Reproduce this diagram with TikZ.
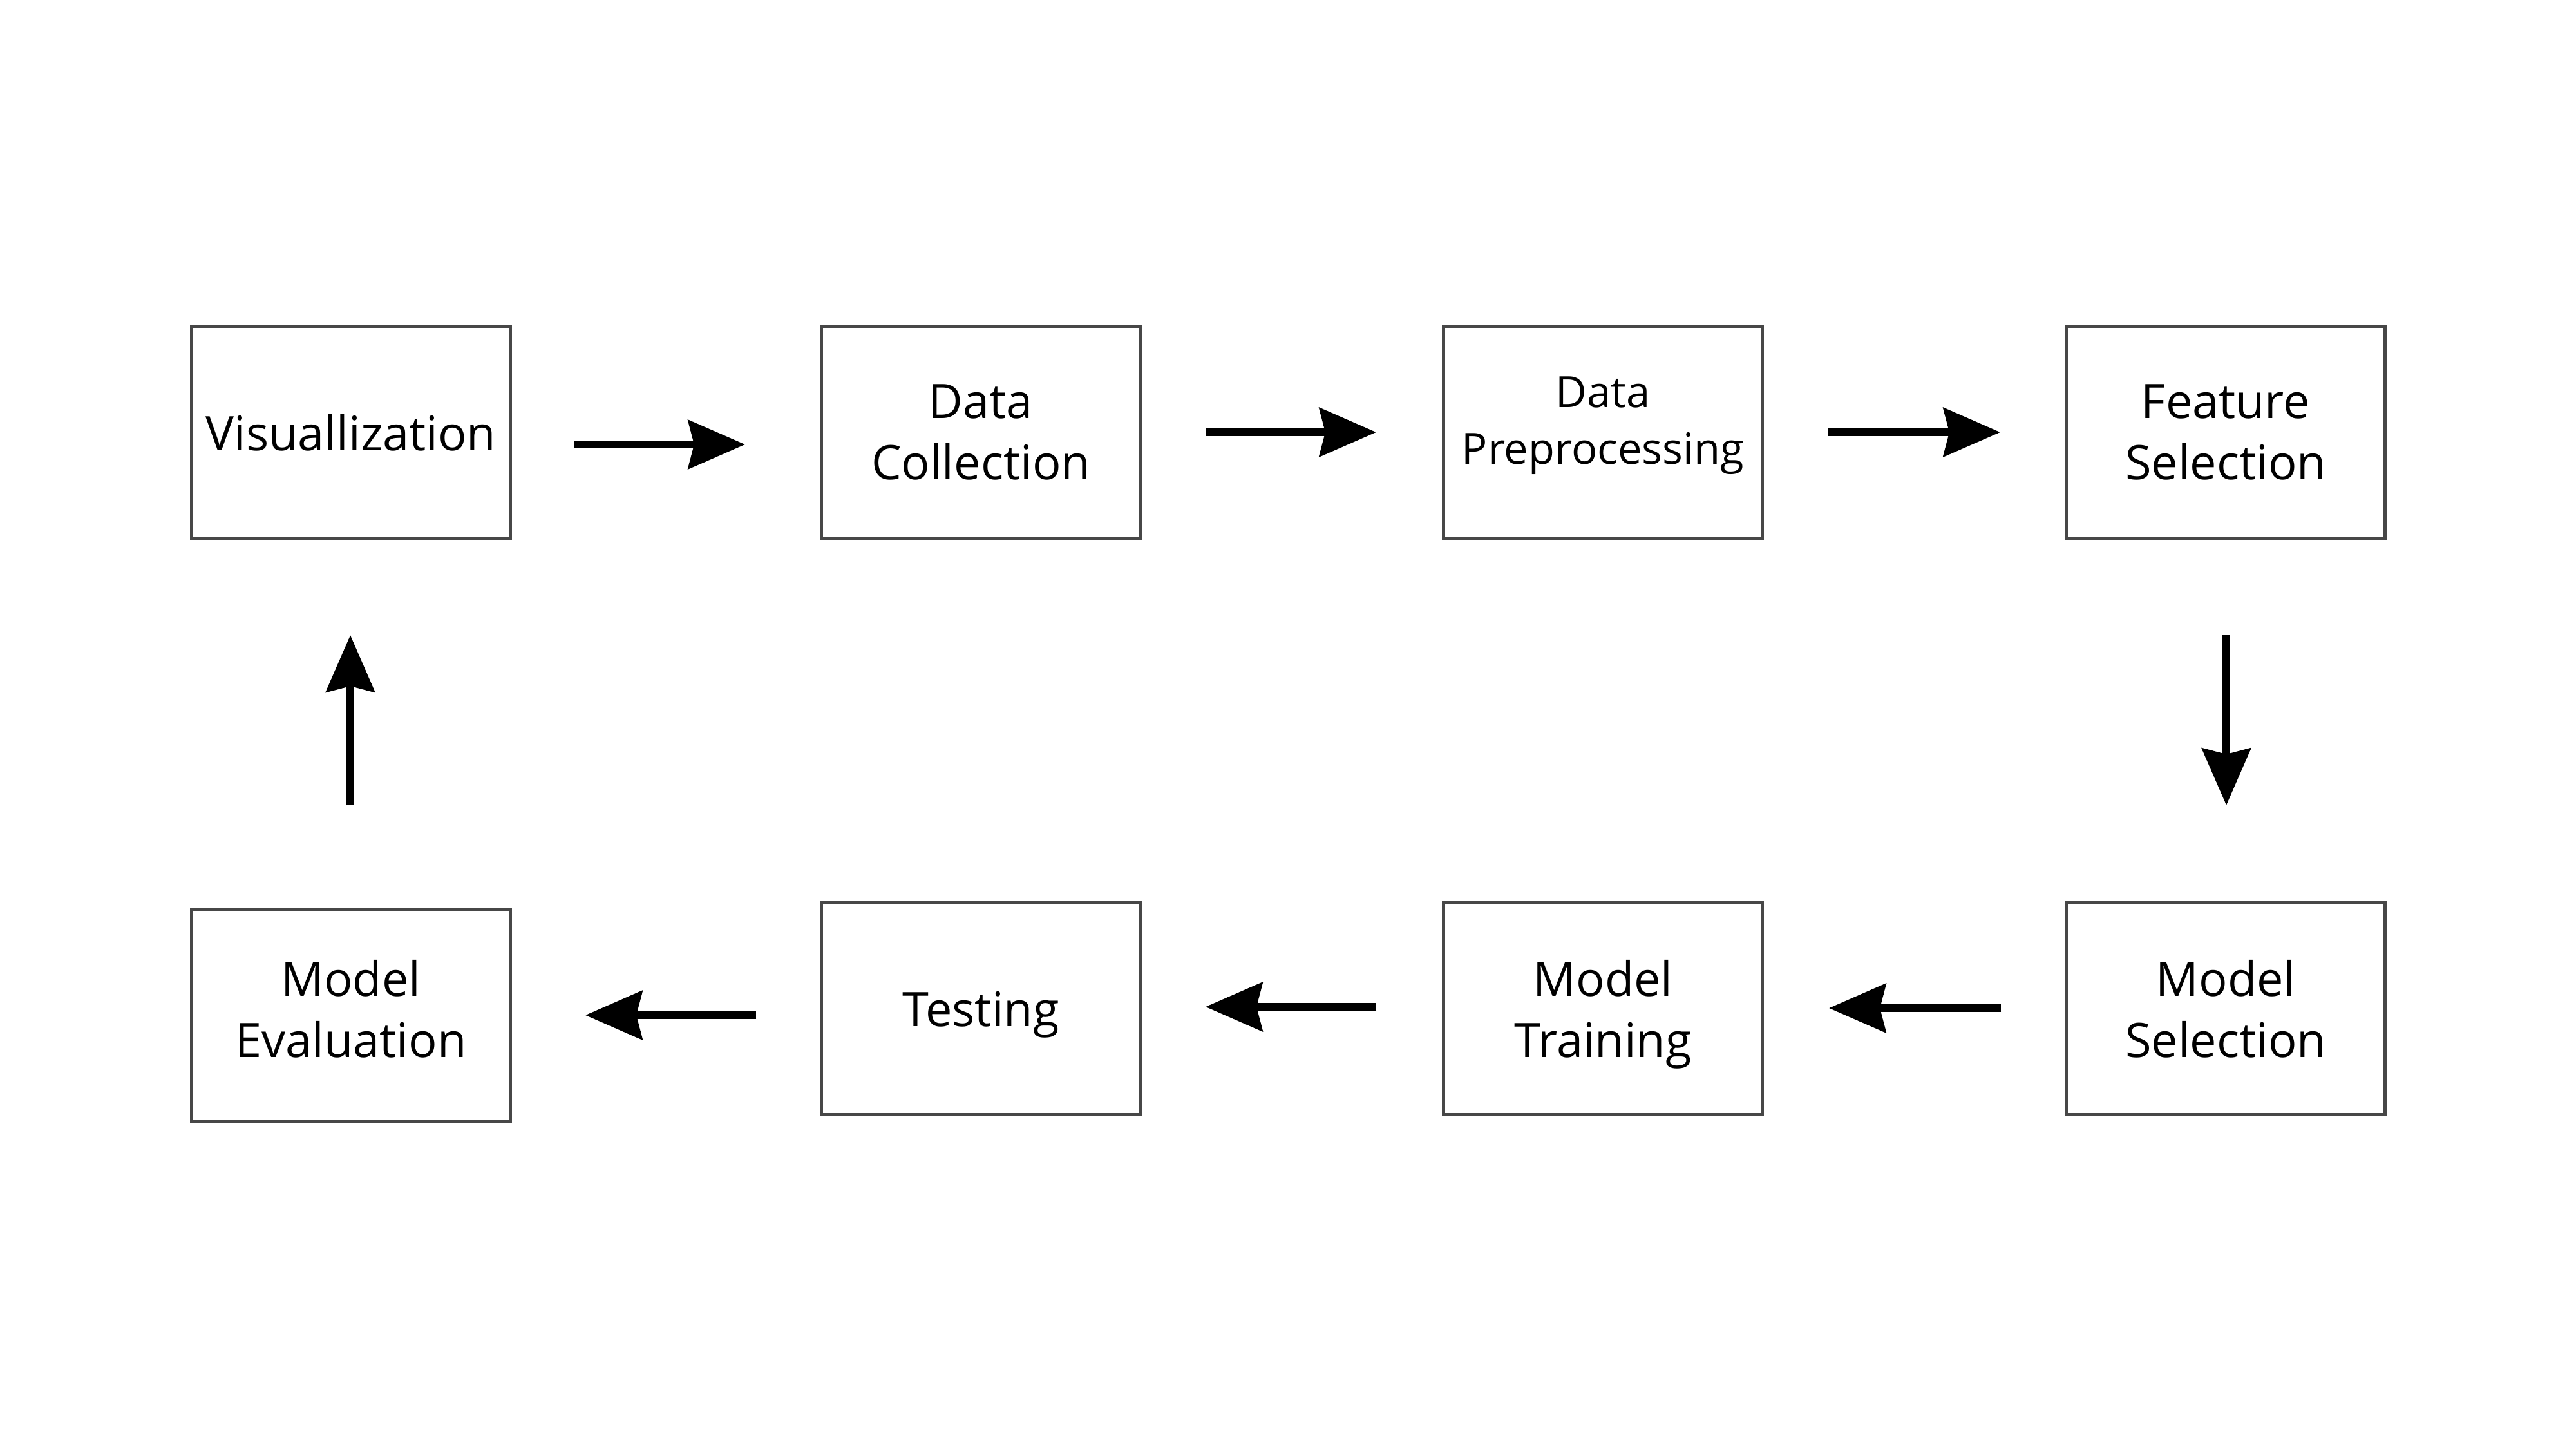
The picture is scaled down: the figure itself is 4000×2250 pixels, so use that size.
\documentclass[tikz,border=0pt]{standalone}
\usepackage{fontspec}
\setmainfont{Open Sans}
\usetikzlibrary{arrows.meta}
\begin{document}
\begin{tikzpicture}[x=0.01cm,y=-0.01cm,
  box/.style={draw=black!72, line width=0.05cm, fill=white,
    minimum width=4.95cm, minimum height=3.29cm, inner sep=0pt,
    align=center, text depth=0pt, font=\fontsize{21}{27}\selectfont},
  flow/.style={line width=0.125cm,
    -{Stealth[length=0.88cm,width=0.75cm,inset=0.09cm]}}]
\useasboundingbox[fill=white] (0,0) rectangle (4000,2250);
% top row
\node[box] (vis)  at (545,671)  {Visuallization};
\node[box] (coll) at (1523,671) {Data\\Collection};
\node[box] (pre)  at (2489,671) {};
\node[font=\fontsize{19}{25}\selectfont, align=center, text depth=0pt, inner sep=0pt] (pretxt) at (2489,653) {Data\\Preprocessing};
\node[box] (feat) at (3456,671) {Feature\\Selection};
% bottom row
\node[box, text depth=0.22cm] (eval) at (545,1577)  {Model\\Evaluation};
\node[box] (test) at (1523,1566) {Testing};
\node[box] (train) at (2489,1566) {Model\\Training};
\node[box] (msel) at (3456,1566) {Model\\Selection};
% arrow ends
\coordinate (a1s) at (891,690);  \coordinate (a1e) at (1157,690);
\coordinate (a2s) at (1872,671); \coordinate (a2e) at (2137,671);
\coordinate (a3s) at (2839,671); \coordinate (a3e) at (3106,671);
\coordinate (a4s) at (3457,986); \coordinate (a4e) at (3457,1250);
\coordinate (a5s) at (3107,1565); \coordinate (a5e) at (2840,1565);
\coordinate (a6s) at (2137,1563); \coordinate (a6e) at (1872,1563);
\coordinate (a7s) at (1174,1576); \coordinate (a7e) at (909,1576);
\coordinate (a8s) at (544,1250); \coordinate (a8e) at (544,986);
\draw[flow] (a1s) -- (a1e);
\draw[flow] (a2s) -- (a2e);
\draw[flow] (a3s) -- (a3e);
\draw[flow] (a4s) -- (a4e);
\draw[flow] (a5s) -- (a5e);
\draw[flow] (a6s) -- (a6e);
\draw[flow] (a7s) -- (a7e);
\draw[flow] (a8s) -- (a8e);
\end{tikzpicture}
\end{document}
